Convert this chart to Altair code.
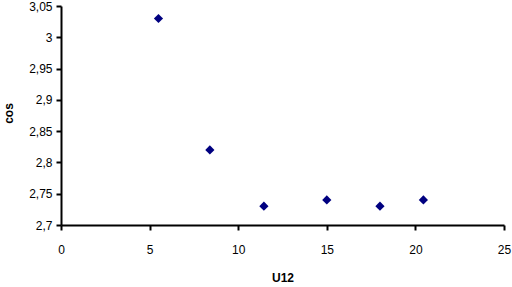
import altair as alt
import pandas as pd

u12 = [5.5, 8.4, 11.45, 15.0, 18.0, 20.45]
cos_vals = [3.03, 2.82, 2.73, 2.74, 2.73, 2.74]

df = pd.DataFrame({"U12": u12, "cos": cos_vals})

FONT = "Liberation Sans"

chart = (
    alt.Chart(df)
    .mark_point(shape="diamond", filled=True, size=85, color="#000080", opacity=1)
    .encode(
        x=alt.X(
            "U12:Q",
            scale=alt.Scale(domain=[0, 25], nice=False, zero=False),
            axis=alt.Axis(
                title="U12",
                values=[0, 5, 10, 15, 20, 25],
                grid=False,
                domainColor="black",
                domainWidth=2,
                tickColor="black",
                tickSize=5,
                tickWidth=2,
                labelFont=FONT,
                labelFontSize=12,
                labelColor="black",
                labelBaseline="alphabetic",
                labelPadding=23,
                labelFlush=False,
                titleFont=FONT,
                titleFontSize=12,
                titleFontWeight="bold",
                titleColor="black",
                titleBaseline="alphabetic",
                titleY=56,
            ),
        ),
        y=alt.Y(
            "cos:Q",
            scale=alt.Scale(domain=[2.7, 3.05], nice=False, zero=False),
            axis=alt.Axis(
                title="cos",
                values=[2.7, 2.75, 2.8, 2.85, 2.9, 2.95, 3.0, 3.05],
                labelExpr="replace(format(datum.value, '.2~f'), '.', ',')",
                grid=False,
                domainColor="black",
                domainWidth=2,
                tickColor="black",
                tickSize=5,
                tickWidth=2,
                labelFont=FONT,
                labelFontSize=12,
                labelColor="black",
                labelPadding=4,
                labelFlush=False,
                titleFont=FONT,
                titleFontSize=12,
                titleFontWeight="bold",
                titleColor="black",
                titleBaseline="middle",
                titleAlign="center",
                titleX=-53,
                titleY=107,
            ),
        ),
    )
    .properties(
        width=443,
        height=219,
        padding={"left": 61, "top": 6, "right": 8, "bottom": 62},
        autosize=alt.AutoSizeParams(type="none"),
        background="white",
    )
    .configure_view(stroke=None)
)

chart.save("out.html", embed_options={"renderer": "svg", "actions": False})
